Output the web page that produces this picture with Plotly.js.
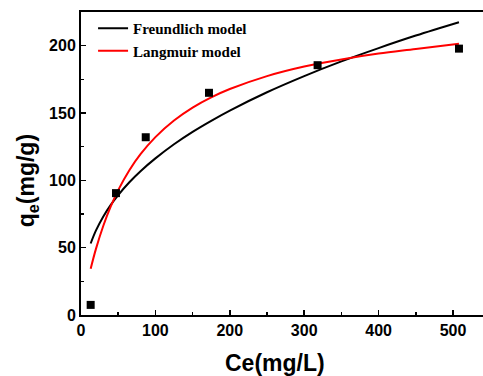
<!DOCTYPE html>
<html>
<head>
<meta charset="utf-8">
<script src="https://cdn.plot.ly/plotly-3.0.1.min.js"></script>
<style>
html,body{margin:0;padding:0;overflow:hidden;background:#fff;}
#chart{width:483px;height:376px;}
</style>
</head>
<body>
<div id="chart"></div>
<script>
// Experimental data
const ceData = [13, 47, 87, 172, 318, 508];
const qeData = [7.5, 90.5, 132, 165, 185.5, 197.8];

// Fitted curves
const curveCe = [13, 20, 30, 40, 50, 65, 80, 100, 125, 150, 175, 200, 250, 300, 350, 400, 450, 508];
const freundlichQe = [53.1, 62.6, 73.2, 81.8, 89.1, 98.6, 106.8, 116.3, 126.8, 136.0, 144.2, 151.8, 165.4, 177.4, 188.3, 198.2, 207.5, 217.4];
const langmuirQe = [34.3, 48.9, 66.3, 80.6, 92.7, 107.5, 119.4, 132.1, 144.4, 154.0, 161.6, 167.8, 177.4, 184.5, 189.8, 194.1, 197.5, 201.5];

const seriesNames = ["Freundlich model", "Langmuir model"];
const xTitle = "Ce(mg/L)";
const yTitle = "q<sub>e</sub>(mg/g)";

const traces = [
  {x: curveCe, y: freundlichQe, mode: "lines", name: seriesNames[0],
   line: {color: "#000000", width: 2, shape: "spline"}},
  {x: curveCe, y: langmuirQe, mode: "lines", name: seriesNames[1],
   line: {color: "#ff0000", width: 2, shape: "spline"}},
  {x: ceData, y: qeData, mode: "markers", showlegend: false,
   marker: {symbol: "square", size: 8, color: "#000000"}}
];

const tickFont = {family: "Liberation Sans, Arial, sans-serif", size: 16, color: "#000", weight: "bold"};
const titleFont = {family: "Liberation Sans, Arial, sans-serif", size: 23, color: "#000", weight: "bold"};

const layout = {
  width: 483, height: 376,
  margin: {l: 81, r: 0, t: 12, b: 61},
  paper_bgcolor: "#fff", plot_bgcolor: "#fff",
  showlegend: true,
  legend: {x: 0.03, y: 1.0, xanchor: "left", yanchor: "top",
           bgcolor: "rgba(0,0,0,0)", borderwidth: 0,
           font: {family: "Liberation Serif, Times New Roman, serif", size: 15, color: "#000", weight: "bold"},
           tracegroupgap: 0, itemwidth: 30},
  xaxis: {
    range: [0, 540.3], showgrid: false, zeroline: false,
    showline: true, linecolor: "#000", linewidth: 2, mirror: true,
    ticks: "inside", ticklen: 5, tickwidth: 1.5, tickcolor: "#000",
    dtick: 100, tick0: 0,
    minor: {ticks: "inside", dtick: 50, ticklen: 3, tickwidth: 1.5, tickcolor: "#000", showgrid: false},
    tickfont: tickFont
  },
  yaxis: {
    range: [0, 225], showgrid: false, zeroline: false,
    showline: true, linecolor: "#000", linewidth: 2, mirror: false,
    ticks: "inside", ticklen: 5, tickwidth: 1.5, tickcolor: "#000",
    dtick: 50, tick0: 0,
    minor: {ticks: "inside", dtick: 25, ticklen: 3, tickwidth: 1.5, tickcolor: "#000", showgrid: false},
    tickfont: tickFont
  },
  annotations: [
    {text: xTitle, xref: "paper", yref: "paper", x: 0.4826, y: -0.158,
     xanchor: "center", yanchor: "middle", showarrow: false, font: titleFont},
    {text: yTitle, xref: "paper", yref: "paper", x: -0.134, y: 0.442,
     xanchor: "center", yanchor: "middle", textangle: -90, showarrow: false, font: titleFont}
  ]
};

Plotly.newPlot("chart", traces, layout, {displayModeBar: false, staticPlot: true});
</script>
</body>
</html>
